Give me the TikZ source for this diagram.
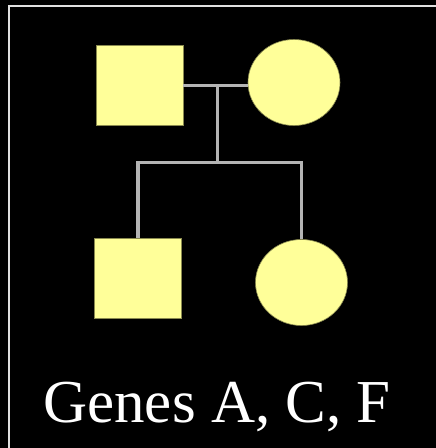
\documentclass[tikz,border=0pt]{standalone}
\usepackage{fontspec}
\setmainfont{Liberation Serif}
\usetikzlibrary{shapes.geometric}
\definecolor{pedfill}{HTML}{FFFF99}
\definecolor{pededge}{HTML}{8A8A50}
\definecolor{pedline}{HTML}{B4B4B4}
\definecolor{frameline}{HTML}{E0E0E0}
\begin{document}
\begin{tikzpicture}[x=1pt,y=-1pt,
  male/.style={draw=pededge,line width=0.6pt,fill=pedfill,rectangle,inner sep=0pt,minimum width=87pt,minimum height=80pt},
  female/.style={draw=pededge,line width=0.6pt,fill=pedfill,ellipse,inner sep=0pt,minimum width=92pt,minimum height=86pt},
  link/.style={draw=pedline,line width=3.4pt}]
\fill[black] (0,0) rectangle (436,448);
\useasboundingbox (0,0) rectangle (436,448);
\draw[frameline,line width=1.8pt] (9,460) -- (9,6) -- (450,6);
\node[male] (father) at (139.5,85.5) {};
\node[female] (mother) at (294,82.5) {};
\node[male] (son) at (138,278) {};
\node[female] (daughter) at (301.5,282.5) {};
\coordinate (mid) at (217.5,85.5);
\coordinate (sib) at (217.5,162.5);
\begin{scope}[on background layer/.style={}]
\draw[link] (father.east) -- (father.east -| mother.west);
\draw[link] (mid) -- (sib);
\draw[link] (son.north) -- (son.north |- sib) -- (daughter.north |- sib) -- (daughter.north);
\end{scope}
\node[text=white,font=\fontsize{61}{70}\selectfont,anchor=base,inner sep=0pt] (label) at (217,422) {Genes A, C, F};
\end{tikzpicture}
\end{document}
